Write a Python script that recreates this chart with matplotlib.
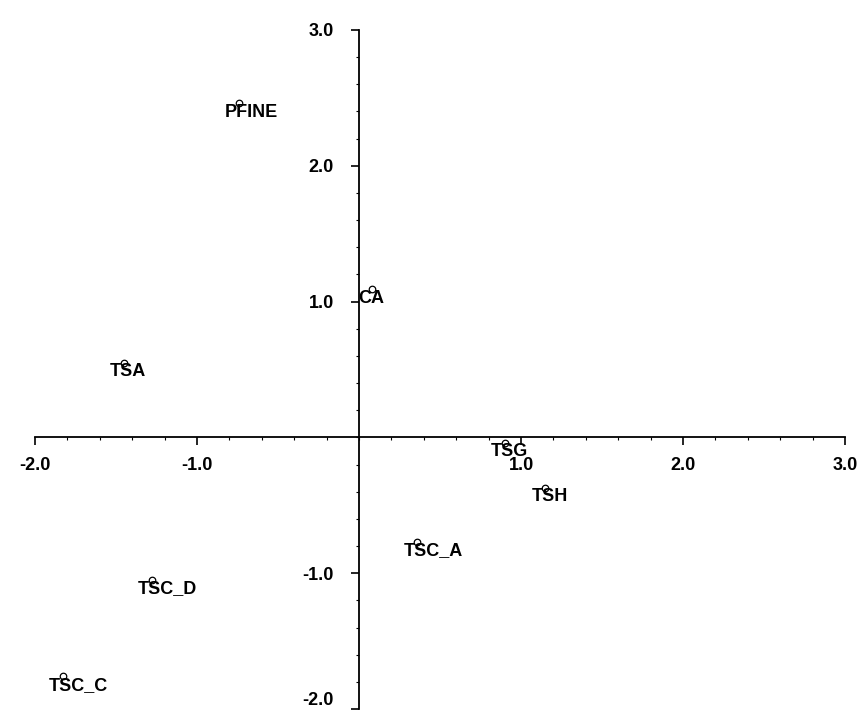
import numpy as np
import matplotlib.pyplot as plt
from matplotlib.ticker import MultipleLocator

labels = ['PFINE', 'CA', 'TSA', 'TSG', 'TSH', 'TSC_A', 'TSC_D', 'TSC_C']
dim1 = [-0.74, 0.08, -1.45, 0.90, 1.15, 0.36, -1.28, -1.83]
dim2 = [2.46, 1.09, 0.55, -0.04, -0.37, -0.77, -1.05, -1.76]

xticks = [-2.0, -1.0, 1.0, 2.0, 3.0]
yticks = [-2.0, -1.0, 1.0, 2.0, 3.0]

plt.rcParams['font.family'] = ['Liberation Sans', 'DejaVu Sans']

fig = plt.figure(figsize=(8.58, 7.15), dpi=100)
ax = fig.add_axes([35 / 858, 6 / 715, 810 / 858, 679 / 715])

ax.scatter(dim1, dim2, s=22, facecolors='white', edgecolors='black', linewidths=0.9, zorder=3)
for lab, x, y in zip(labels, dim1, dim2):
    ax.annotate(lab, (x, y), xytext=(-14, -9), textcoords='offset pixels',
                ha='left', va='center', fontsize=13, fontweight='bold', zorder=4)

ax.set_xlim(-2, 3)
ax.set_ylim(-2, 3)
ax.spines['left'].set_position(('data', 0))
ax.spines['bottom'].set_position(('data', 0))
ax.spines['top'].set_visible(False)
ax.spines['right'].set_visible(False)
ax.spines['left'].set_linewidth(1.3)
ax.spines['bottom'].set_linewidth(1.3)

ax.set_xticks(xticks)
ax.set_xticklabels(['%.1f' % v for v in xticks], fontweight='bold', fontsize=13)
ax.set_yticks(yticks)
ax.set_yticklabels(['%.1f' % v for v in yticks], fontweight='bold', fontsize=13)
ax.get_yticklabels()[0].set_va('bottom')
ax.xaxis.set_minor_locator(MultipleLocator(0.2))
ax.yaxis.set_minor_locator(MultipleLocator(0.2))
ax.tick_params(which='major', direction='out', length=6, width=1.2, pad=8)
ax.tick_params(axis='y', which='major', pad=12)
ax.tick_params(which='minor', direction='out', length=2.5, width=0.8)

fig.savefig('out.png', dpi=100)
